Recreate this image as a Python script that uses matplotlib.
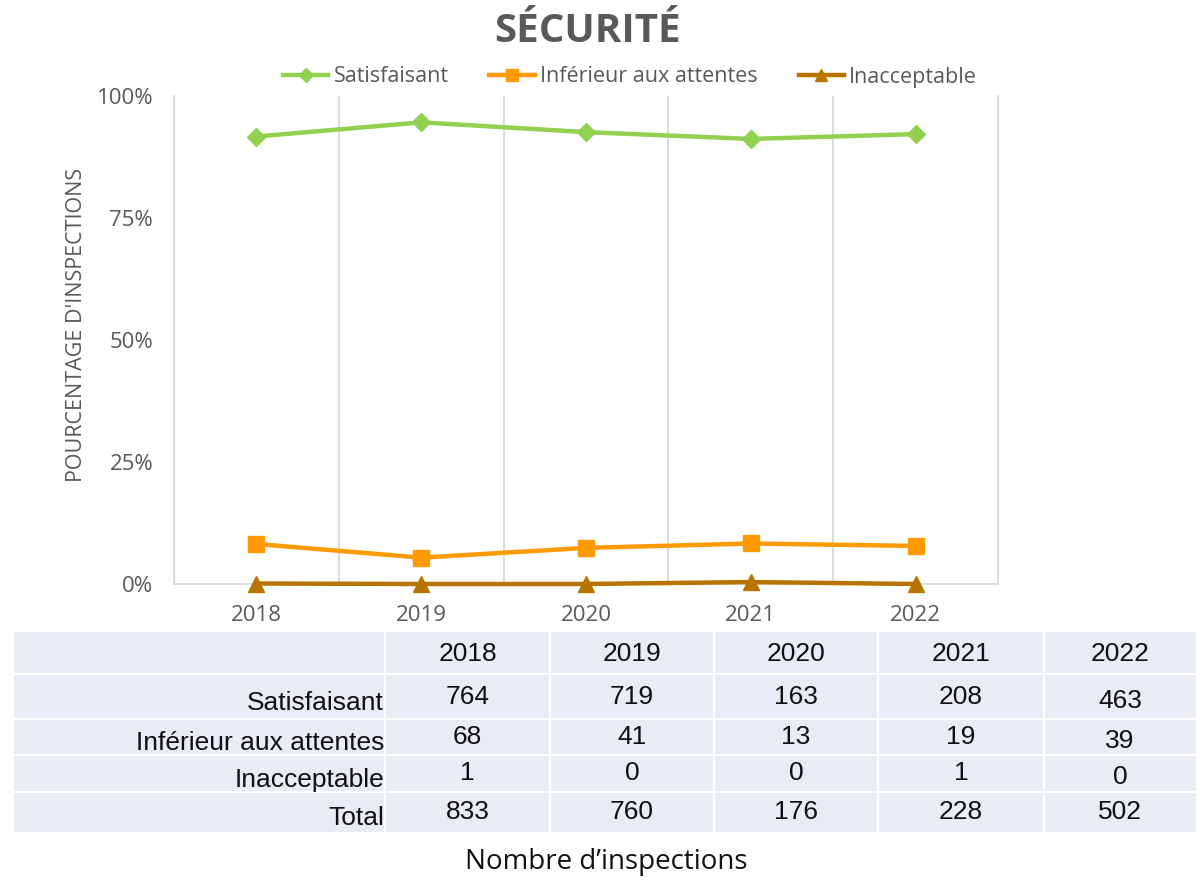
import matplotlib.pyplot as plt
from matplotlib.patches import Rectangle

# data
years = ['2018', '2019', '2020', '2021', '2022']
pct_satisfaisant = [0.917, 0.946, 0.926, 0.912, 0.922]
pct_inferieur = [0.082, 0.054, 0.074, 0.083, 0.078]
pct_inacceptable = [0.001, 0.0, 0.0, 0.004, 0.0]

row_labels = ['Satisfaisant', 'Inférieur aux attentes', 'Inacceptable', 'Total']
n_satisfaisant = [764, 719, 163, 208, 463]
n_inferieur = [68, 41, 13, 19, 39]
n_inacceptable = [1, 0, 0, 1, 0]
n_total = [833, 760, 176, 228, 502]

W, H = 1198, 880
gray = '#595959'
grid = '#D9D9D9'
chart_font = 'Open Sans'
table_font = 'Liberation Sans'

fig = plt.figure(figsize=(W / 100, H / 100), dpi=100)

# chart area (pixel box of the reference)
ax = fig.add_axes([174 / W, 1 - 584 / H, (998 - 174) / W, (584 - 96) / H])
x = range(len(years))
ax.plot(x, pct_satisfaisant, color='#92D050', lw=3.2, marker='D', ms=9,
        label='Satisfaisant', zorder=3)
ax.plot(x, pct_inferieur, color='#FF9A00', lw=3.2, marker='s', ms=12,
        label='Inférieur aux attentes', zorder=3)
ax.plot(x, pct_inacceptable, color='#B87400', lw=3.2, marker='^', ms=11,
        label='Inacceptable', zorder=4, clip_on=False)

ax.set_xlim(-0.5, len(years) - 0.5)
ax.set_ylim(0, 1)
ax.set_yticks([0, 0.25, 0.5, 0.75, 1.0])
ax.set_yticklabels(['0%', '25%', '50%', '75%', '100%'])
ax.set_xticks(list(x))
ax.set_xticklabels(years)
ax.set_xticks([i - 0.5 for i in range(len(years) + 1)], minor=True)
ax.grid(True, which='minor', axis='x', color=grid, lw=1.3)
ax.tick_params(which='both', length=0)
ax.tick_params(axis='y', pad=15, labelsize=16, labelcolor=gray)
ax.tick_params(axis='x', pad=15, labelsize=16, labelcolor=gray)
for lab in ax.get_xticklabels() + ax.get_yticklabels():
    lab.set_fontfamily(chart_font)
ax.spines['top'].set_visible(False)
for s in ['left', 'bottom', 'right']:
    ax.spines[s].set_color(grid)
    ax.spines[s].set_linewidth(1.3)

fig.text(77 / W, 1 - 325 / H, "POURCENTAGE D'INSPECTIONS", rotation=90,
         ha='center', va='center', fontsize=15.5, color=gray, family=chart_font)
fig.text(587 / W, 1 - 32 / H, 'SÉCURITÉ', ha='center', va='center',
         fontsize=29, fontweight='bold', color=gray, family=chart_font)

handles, labels = ax.get_legend_handles_labels()
fig.legend(handles, labels, loc='center', bbox_to_anchor=(630 / W, 1 - 77 / H),
           ncol=3, frameon=False, handlelength=2.1, handletextpad=0.25,
           columnspacing=1.9, markerscale=0.75,
           prop={'family': chart_font, 'size': 15.5}, labelcolor=gray)

# table below the chart, laid out in pixel coordinates
tab = fig.add_axes([0, 0, 1, 1])
tab.set_xlim(0, W)
tab.set_ylim(H, 0)
tab.axis('off')

col_edges = [14, 385, 550, 714, 878, 1044, 1196]
row_edges = [632, 674, 719, 755, 792, 832]
cell_color = '#E9EBF5'
gap = 1.2
for r in range(len(row_edges) - 1):
    for c in range(len(col_edges) - 1):
        x0 = col_edges[c] + (gap if c > 0 else 0)
        x1 = col_edges[c + 1] - (gap if c < len(col_edges) - 2 else 0)
        y0 = row_edges[r] + (gap if r > 0 else 0)
        y1 = row_edges[r + 1] - (gap if r < len(row_edges) - 2 else 0)
        tab.add_patch(Rectangle((x0, y0), x1 - x0, y1 - y0,
                                facecolor=cell_color, edgecolor='none'))

col_centers = [(col_edges[c] + col_edges[c + 1]) / 2 for c in range(1, len(col_edges) - 1)]
row_centers = [(row_edges[r] + row_edges[r + 1]) / 2 for r in range(len(row_edges) - 1)]

for c, yr in enumerate(years):
    tab.text(col_centers[c], row_centers[0] + 1, yr, ha='center', va='center',
             fontsize=19, family=table_font, color='#111111')

rows = [n_satisfaisant, n_inferieur, n_inacceptable, n_total]
for r, (name, vals) in enumerate(zip(row_labels, rows)):
    yc = row_centers[r + 1]
    tab.text(col_edges[1] - 1, yc + 6, name, ha='right', va='center',
             fontsize=19, family=table_font, color='#111111')
    for c, v in enumerate(vals):
        # last column sits a little lower in the source sheet (except Total)
        dy = 4 if (c == len(vals) - 1 and r < len(rows) - 1) else 0
        tab.text(col_centers[c], yc + dy, str(v), ha='center', va='center',
                 fontsize=19, family=table_font, color='#111111')

fig.text(606 / W, 1 - 862 / H, 'Nombre d’inspections', ha='center', va='center',
         fontsize=20, color='#111111', family=chart_font)

fig.savefig('out.png', dpi=100)
